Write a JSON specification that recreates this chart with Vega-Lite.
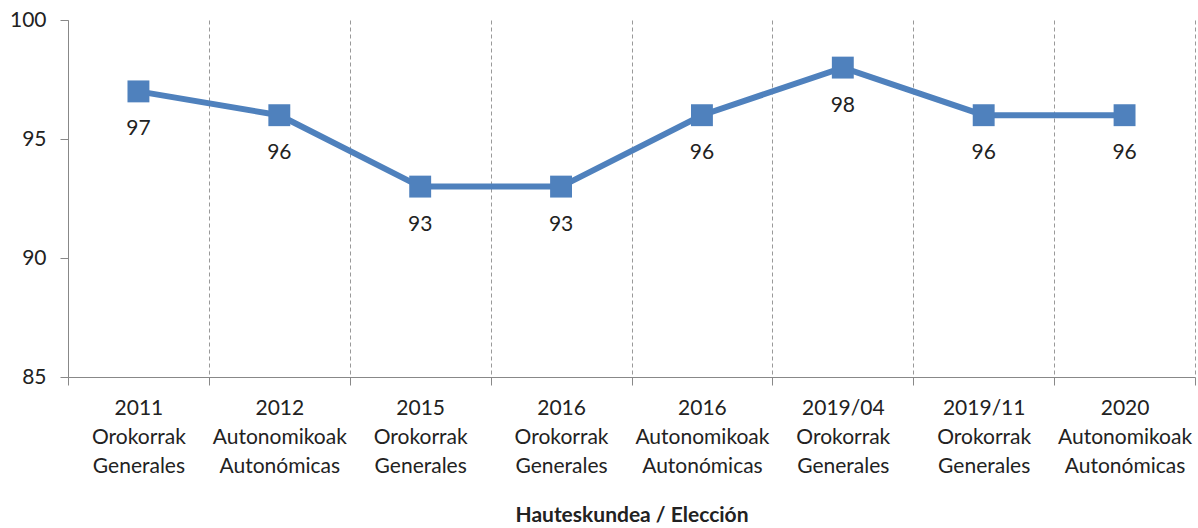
{
  "$schema": "https://vega.github.io/schema/vega-lite/v6.json",
  "width": 1127,
  "height": 357,
  "autosize": "none",
  "padding": {"left": 68, "top": 20, "right": 3, "bottom": 151},
  "background": "white",
  "config": {"view": {"stroke": null}, "font": "Lato"},
  "data": {"values": [
    {"eleccion": "2011|Orokorrak|Generales", "valor": 97},
    {"eleccion": "2012|Autonomikoak|Autonómicas", "valor": 96},
    {"eleccion": "2015|Orokorrak|Generales", "valor": 93},
    {"eleccion": "2016|Orokorrak|Generales", "valor": 93},
    {"eleccion": "2016|Autonomikoak|Autonómicas", "valor": 96},
    {"eleccion": "2019/04|Orokorrak|Generales", "valor": 98},
    {"eleccion": "2019/11|Orokorrak|Generales", "valor": 96},
    {"eleccion": "2020|Autonomikoak|Autonómicas", "valor": 96}
  ]},
  "encoding": {
    "x": {"field": "eleccion", "type": "nominal", "sort": null,
      "scale": {"paddingInner": 0, "paddingOuter": 0},
      "axis": {"title": "Hauteskundea / Elección", "titleFontWeight": "bold", "titleFontSize": 21, "titleColor": "#222", "titlePadding": 28,
        "labelExpr": "split(datum.label, '|')", "labelAngle": 0, "labelFontSize": 21, "labelLineHeight": 29, "labelColor": "#222", "labelPadding": 12,
        "tickBand": "extent", "ticks": true, "tickSize": 8, "tickColor": "#888", "domainColor": "#888",
        "grid": true, "gridDash": [4, 3], "gridColor": "#999"}},
    "y": {"field": "valor", "type": "quantitative",
      "scale": {"domain": [85, 100], "nice": false, "zero": false},
      "axis": {"title": null, "values": [85, 90, 95, 100], "grid": false, "labelFontSize": 21, "labelColor": "#222", "labelPadding": 14,
        "tickSize": 8, "tickColor": "#888", "domainColor": "#888"}}
  },
  "layer": [
    {"mark": {"type": "line", "color": "#4F81BD", "strokeWidth": 6}},
    {"mark": {"type": "point", "shape": "square", "filled": true, "opacity": 1, "size": 480, "color": "#4F81BD"}},
    {"mark": {"type": "text", "dy": 38, "fontSize": 21, "color": "#222"}, "encoding": {"text": {"field": "valor", "type": "quantitative"}}}
  ]
}
